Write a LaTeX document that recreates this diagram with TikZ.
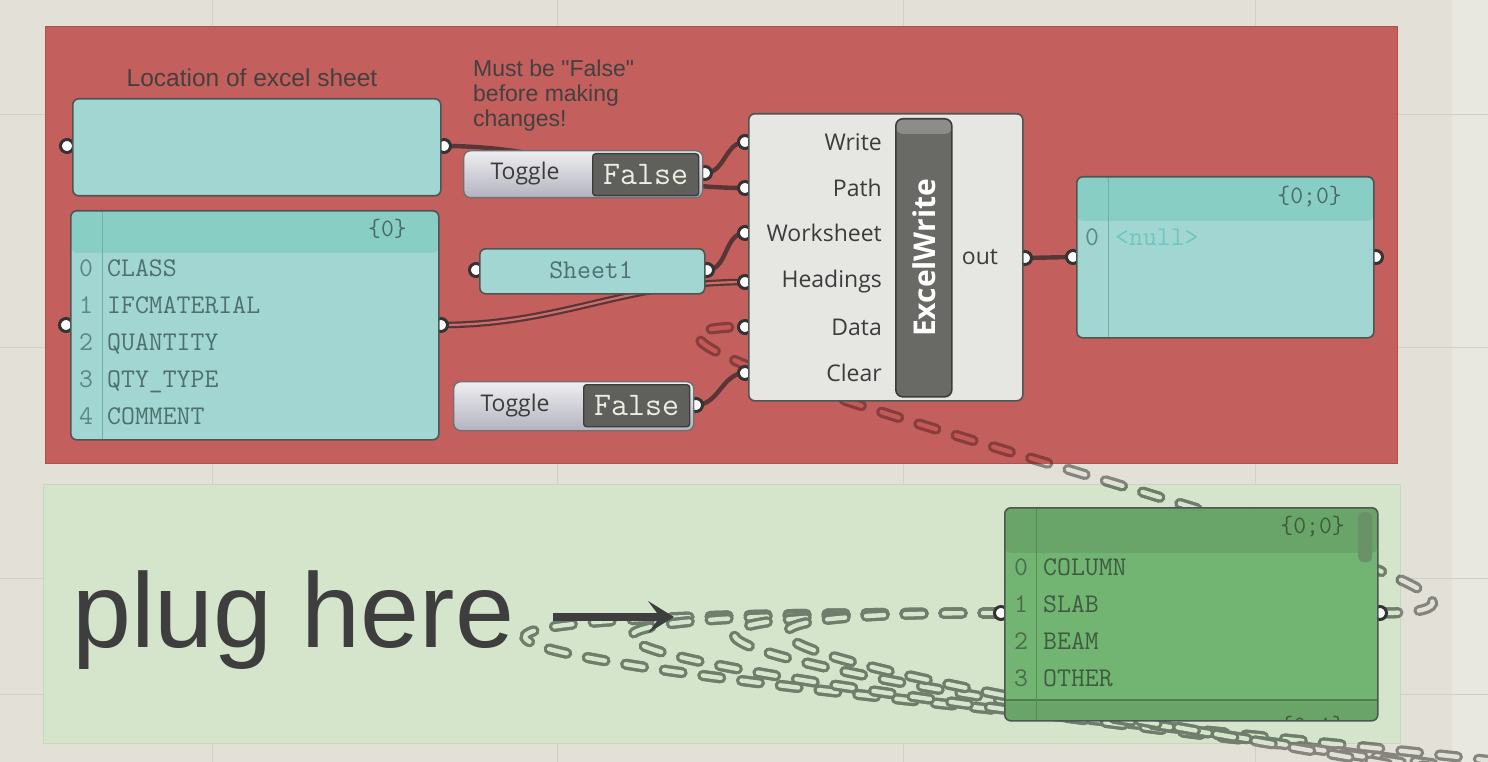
\documentclass[tikz,border=0pt]{standalone}
\usepackage{fontspec}
\setmainfont{Liberation Sans}
\newfontfamily\notefont{Liberation Sans}
\newfontfamily\ghfont{Open Sans}
\usetikzlibrary{arrows.meta,positioning,calc}

\pgfdeclarelayer{grouplayer}
\pgfdeclarelayer{wirelayer}
\pgfsetlayers{grouplayer,wirelayer,main}

\definecolor{canvas}{HTML}{E3E1D7}
\definecolor{canvaslight}{HTML}{E9E8E0}
\definecolor{gridline}{HTML}{D2D0C6}
\definecolor{redgroup}{HTML}{C25A57}
\definecolor{redgroupedge}{HTML}{B24F4C}
\definecolor{greengroup}{HTML}{D4E6CC}
\definecolor{greengroupedge}{HTML}{C2DABA}
\definecolor{panelfill}{HTML}{A2D6D3}
\definecolor{panelhead}{HTML}{88CEC4}
\definecolor{paneltext}{HTML}{4E706C}
\definecolor{idxtext}{HTML}{5A8884}
\definecolor{headtext}{HTML}{4A6A66}
\definecolor{nulltext}{HTML}{6CC8BF}
\definecolor{edge}{HTML}{4F5553}
\definecolor{gripedge}{HTML}{333333}
\definecolor{compfill}{HTML}{E6E6E3}
\definecolor{barfill}{HTML}{696965}
\definecolor{barlight}{HTML}{8C8C88}
\definecolor{bardark}{HTML}{3C3C3A}
\definecolor{falsefill}{HTML}{5F5F5B}
\definecolor{falsetext}{HTML}{EDEDE3}
\definecolor{toggleedge}{HTML}{707070}
\definecolor{toggletop}{HTML}{EEEEF1}
\definecolor{togglemid}{HTML}{D2D2D9}
\definecolor{togglebottom}{HTML}{B3B3C0}
\definecolor{listgreen}{HTML}{72B572}
\definecolor{listhead}{HTML}{69A469}
\definecolor{listline}{HTML}{4F7F4F}
\definecolor{listtext}{HTML}{3F5B3F}
\definecolor{listidx}{HTML}{4C6C4C}
\definecolor{wire}{HTML}{5A3536}
\definecolor{redwire}{HTML}{8A3C3A}
\definecolor{greenwire}{HTML}{6E7E6B}
\definecolor{gapwire}{HTML}{85857F}
\definecolor{labeltext}{HTML}{3C3C3C}
\definecolor{notetext}{HTML}{454040}
\definecolor{plugtext}{HTML}{3E3E3E}

% dashed (hidden) wire, recoloured for each group it crosses
\newcommand\hiddenlink[1]{%
  \draw[hidden, draw=gapwire, double=canvas] #1;
  \begin{scope}
    \clip (45,26) rectangle (1397,463);
    \draw[hidden, draw=redwire, double=redgroup] #1;
  \end{scope}
  \begin{scope}
    \clip (43,484) rectangle (1400,743);
    \draw[hidden, draw=greenwire, double=greengroup] #1;
  \end{scope}}

\begin{document}
\begin{tikzpicture}[x=1pt, y=-1pt,
    group/.style={rectangle, anchor=north west, inner sep=0pt, line width=1pt},
    panel/.style={rectangle, anchor=north west, inner sep=0pt, draw=edge, line width=1.6pt, fill=panelfill, rounded corners=6pt},
    listpanel/.style n args={3}{panel, fill=#1, path picture={
        \fill[#2] (path picture bounding box.north west) rectangle ([yshift=-#3]path picture bounding box.north east);
        \draw[#2!85!black, line width=0.8pt] ([xshift=32pt]path picture bounding box.north west) -- ([xshift=32pt]path picture bounding box.south west);}},
    greenpanel/.style={panel, fill=listgreen, path picture={
        \fill[listhead] (path picture bounding box.north west) rectangle ([yshift=-45pt]path picture bounding box.north east);
        \fill[listhead] ([yshift=21pt]path picture bounding box.south west) rectangle (path picture bounding box.south east);
        \draw[listline, line width=1.4pt] ([yshift=21pt]path picture bounding box.south west) -- ([yshift=21pt]path picture bounding box.south east);
        \draw[listhead!85!black, line width=0.8pt] ([xshift=32pt]path picture bounding box.north west) -- ([xshift=32pt]path picture bounding box.south west);}},
    grip/.style={circle, draw=gripedge, fill=white, line width=3pt, minimum size=13pt, inner sep=0pt},
    component/.style={rectangle, anchor=north west, inner sep=0pt, draw=edge, line width=1.6pt, fill=compfill, rounded corners=6pt},
    namebar/.style={rectangle, anchor=north west, inner sep=0pt, draw=bardark, line width=1.6pt, fill=barfill, rounded corners=7pt,
        path picture={\fill[barlight] (path picture bounding box.north west) rectangle ([yshift=-15pt]path picture bounding box.north east);}},
    togglebox/.style={rectangle, anchor=north west, inner sep=0pt, draw=toggleedge, line width=1.4pt, rounded corners=7pt,
        top color=toggletop, middle color=togglemid, bottom color=togglebottom},
    falsebox/.style={rectangle, anchor=north west, inner sep=0pt, draw=bardark, line width=1.4pt, fill=falsefill, rounded corners=3pt,
        text=falsetext, font=\ttfamily\fontsize{33}{33}\selectfont},
    inlabel/.style={anchor=east, inner sep=0pt, text=labeltext, font=\ghfont\fontsize{23}{23}\selectfont},
    note/.style={inner sep=0pt, text=notetext, font=\notefont\fontsize{24.5}{25}\selectfont},
    paneltxt/.style={anchor=base west, inner sep=0pt, text=paneltext, font=\ttfamily\fontsize{27}{27}\selectfont},
    idxtxt/.style={anchor=base, inner sep=0pt, text=idxtext, font=\ttfamily\fontsize{27}{27}\selectfont},
    headtxt/.style={anchor=east, inner sep=0pt, text=headtext, font=\ttfamily\fontsize{25}{25}\selectfont},
    solidwire/.style={draw=wire, line width=4.4pt},
    listwire/.style={draw=wire, line width=2.2pt, double=redgroup!88!white, double distance=2.2pt},
    hidden/.style={line width=3.3pt, double distance=4.4pt, dash pattern=on 18pt off 21pt, line cap=round},
    pointer/.style={draw=plugtext, line width=8pt, -{Stealth[length=26pt, width=32pt, inset=12pt]}}
]
\useasboundingbox (0,0) rectangle (1488,762);

% canvas, grid and groups
\begin{pgfonlayer}{grouplayer}
    \fill[canvas] (0,0) rectangle (1488,762);
    \fill[canvaslight] (1452,0) rectangle (1488,762);
    \foreach \gx in {212,557,903,1255} \draw[gridline, line width=1pt] (\gx,0) -- (\gx,762);
    \foreach \gy in {115,347,578,694} \draw[gridline, line width=1pt] (0,\gy) -- (1488,\gy);
    \node[group, fill=redgroup, draw=redgroupedge, fill opacity=0.96, minimum width=1352pt, minimum height=437pt] (writegroup) at (45,26) {};
    \node[group, fill=greengroup, draw=greengroupedge, fill opacity=0.92, minimum width=1357pt, minimum height=259pt] (pluggroup) at (43,484) {};
\end{pgfonlayer}

% notes
\node[note] (locnote) at (252,78) {Location of excel sheet};
\node[note, anchor=north west, align=left, font=\notefont\fontsize{23}{25}\selectfont] (warnnote) at (473,60) {Must be "False"\\before making\\changes!};

% grips
\foreach \name/\x/\y in {locin/67/146, locout/444/146, tgaout/705/173, listin/66/325, listout/441/325,
    sheetin/476/270, sheetout/707/270, tgbout/696/405, writein/745/142, pathin/745/188, sheetwin/745/233,
    headin/745/282, datain/745/327, clearin/745/373, ewout/1025/258, nullin/1073/257, nullout/1376/257,
    gin/1001/613, gout/1380/613}
    \node[grip] (\name) at (\x,\y) {};

% path panel
\node[panel, minimum width=368pt, minimum height=97pt] (location) at (72,98) {};

% headings list
\node[listpanel={panelfill}{panelhead}{42pt}, minimum width=368pt, minimum height=229pt] (headings) at (70,210) {};
\node[headtxt] (headingshead) at (407,229) {\{0\}};
\foreach \i/\t in {0/CLASS,1/IFCMATERIAL,2/QUANTITY,3/QTY\_TYPE,4/COMMENT} {
    \node[idxtxt] (hidx\i) at (86,{276+37*\i}) {\i};
    \node[paneltxt] (hrow\i) at (107,{276+37*\i}) {\t};
}

% worksheet name
\node[panel, minimum width=225pt, minimum height=45pt] (sheet) at (479,248) {};
\node[paneltxt, anchor=base] (sheetlabel) at (591,278) {Sheet1};

% toggles
\node[togglebox, minimum width=239pt, minimum height=47pt] (toggleA) at (463,150) {};
\node[inlabel, anchor=center] (toggleAlabel) at (525,174) {Toggle};
\node[falsebox, minimum width=106pt, minimum height=42pt] (falseA) at (592,153) {False};
\node[togglebox, minimum width=240pt, minimum height=49pt] (toggleB) at (453,381) {};
\node[inlabel, anchor=center] (toggleBlabel) at (515,406) {Toggle};
\node[falsebox, minimum width=106pt, minimum height=42pt] (falseB) at (583,384) {False};

% ExcelWrite component
\node[component, minimum width=274pt, minimum height=287pt] (excel) at (748,113) {};
\node[namebar, minimum width=56pt, minimum height=278pt] (excelbar) at (895,118) {};
\node[rotate=90, inner sep=0pt, text=white, font=\ghfont\bfseries\fontsize{30}{30}\selectfont] (exceltitle) at (excelbar.center) {ExcelWrite};
\foreach \lab/\gy in {Write/142,Path/188,Worksheet/233,Headings/282,Data/327,Clear/373}
    \node[inlabel] (lbl\lab) at (882,\gy) {\lab};
\node[inlabel, anchor=center] (outlabel) at (980,257) {out};

% result panel
\node[listpanel={panelfill}{panelhead}{44pt}, minimum width=297pt, minimum height=161pt] (nullpanel) at (1076,176) {};
\node[headtxt] (nullhead) at (1342,197) {\{0;0\}};
\node[idxtxt] (nullidx) at (1092,245) {0};
\node[paneltxt, text=nulltext] (nullrow) at (1115,245) {<null>};

% class list
\node[greenpanel, minimum width=373pt, minimum height=213pt] (classes) at (1004,507) {};
\node[headtxt, text=listtext] (classhead) at (1345,527) {\{0;0\}};
\begin{scope}
    \clip (1005,700) rectangle (1376,719);
    \node[headtxt, text=listtext] (nexthead) at (1345,727) {\{0;1\}};
\end{scope}
\node[rectangle, anchor=north west, fill=listline!85, rounded corners=5pt, minimum width=14pt, minimum height=50pt, inner sep=0pt] (scroll) at (1358,512) {};
\foreach \i/\t in {0/COLUMN,1/SLAB,2/BEAM,3/OTHER} {
    \node[idxtxt, text=listidx] (cidx\i) at (1021,{575+37*\i}) {\i};
    \node[paneltxt, text=listtext] (crow\i) at (1043,{575+37*\i}) {\t};
}

% plug hint
\node[anchor=base west, inner sep=0pt, text=plugtext, font=\notefont\fontsize{106}{106}\selectfont] (plug) at (72,647) {plug here};
\coordinate (plugtail) at (553,617);
\coordinate (plugtip) at (674,617);
\draw[pointer] (plugtail) -- (plugtip);

% far sources of the hidden wires
\coordinate (src1) at (1520,772);
\coordinate (src2) at (1530,788);
\coordinate (src3) at (1540,800);
\coordinate (src4) at (1550,812);

% wires
\begin{pgfonlayer}{wirelayer}
\begin{scope}
    \clip (0,0) rectangle (1488,762);
    \draw[solidwire] (locout.center) to[out=0, in=180] (pathin.center);
    \draw[solidwire] (tgaout.center) to[out=0, in=180] (writein.center);
    \draw[solidwire] (sheetout.center) to[out=0, in=180] (sheetwin.center);
    \draw[listwire] (listout.center) to[out=0, in=180] (headin.center);
    \draw[solidwire] (tgbout.center) to[out=0, in=180] (clearin.center);
    \draw[solidwire] (ewout.center) -- (nullin.center);
    \hiddenlink{(gout.center) .. controls +(320,0) and +(-300,0) .. (datain.center)}
    \hiddenlink{(gin.center) .. controls +(-1420,0) and +(300,0) .. (src1)}
    \hiddenlink{(gin.center) .. controls +(-1167,0) and +(300,0) .. (src2)}
    \hiddenlink{(gin.center) .. controls +(-915,0) and +(300,0) .. (src3)}
    \hiddenlink{(gin.center) .. controls +(-782,0) and +(300,0) .. (src4)}
\end{scope}
\end{pgfonlayer}
\end{tikzpicture}
\end{document}
